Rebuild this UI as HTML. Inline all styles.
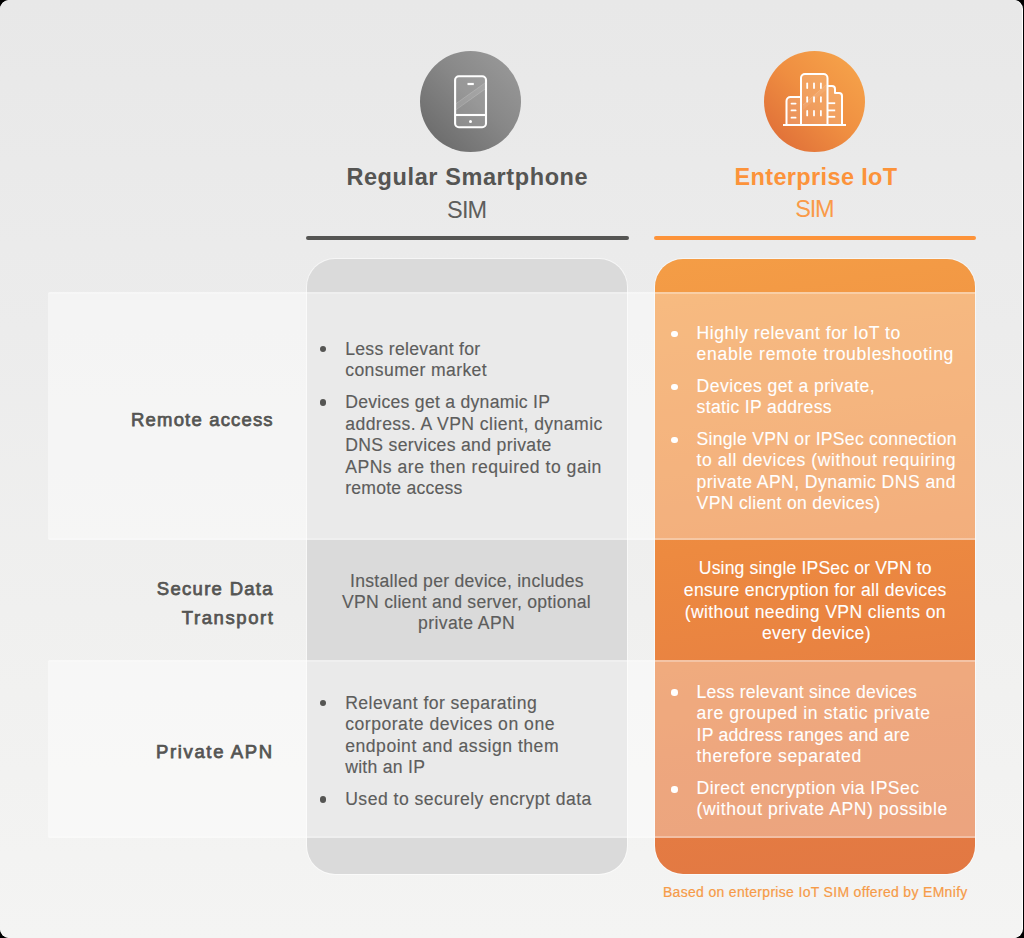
<!DOCTYPE html>
<html>
<head>
<meta charset="utf-8">
<style>
html,body{margin:0;padding:0;}
body{width:1024px;height:938px;background:#000;position:relative;overflow:hidden;font-family:"Liberation Sans",sans-serif;}
.frame{position:absolute;left:0;top:0;width:1023px;height:938px;border-radius:9px;background:#fff;overflow:hidden;}
.bg{position:absolute;left:0;top:0;width:1022px;height:938px;border-radius:9px;background:linear-gradient(180deg,#e8e8e8 0%,#ececec 35%,#f0f0ef 65%,#f4f4f3 100%);}
.t{position:absolute;white-space:nowrap;line-height:1;}
.b{-webkit-text-stroke:0.15px currentColor;}
.bw{-webkit-text-stroke:0.1px currentColor;}
.bf{-webkit-text-stroke:0.2px currentColor;}
.sb{-webkit-text-stroke:0.75px currentColor;}
.bul{position:absolute;width:6.4px;height:6.4px;border-radius:50%;}
.circle{position:absolute;width:101px;height:101px;border-radius:50%;}
.c1{left:420px;top:51px;background:linear-gradient(45deg,#656565 0%,#888888 55%,#9c9c9c 100%);}
.c2{left:764px;top:51px;background:linear-gradient(45deg,#dc6836 0%,#ef8e41 50%,#f7a74c 100%);}
.bar{position:absolute;height:4px;top:236px;border-radius:2px;}
.card{position:absolute;top:259px;width:320px;height:615px;border-radius:28px;box-sizing:border-box;}
.gcard{left:307px;background:#dadada;box-shadow:0 0 0 1px rgba(255,255,255,0.55);}
.ocard{left:655px;background:linear-gradient(172deg,#f49d46 0%,#ed8a40 45%,#e67e42 75%,#e27843 100%);box-shadow:0 0 0 1px rgba(255,255,255,0.55);}
.band{position:absolute;left:48px;width:927px;background:rgba(255,255,255,0.44);border-top:2px solid rgba(255,255,255,0.22);border-bottom:2px solid rgba(255,255,255,0.22);box-sizing:border-box;border-radius:2px;}
.bo{background:rgba(255,255,255,0.32);border-color:rgba(255,255,255,0.3);border-radius:0;}
</style>
</head>
<body>
<div class="frame"><div class="bg"></div></div>

<div class="circle c1"></div>
<svg style="position:absolute;left:420px;top:51px" width="101" height="101" viewBox="420 51 101 101">
  <rect x="455.1" y="76.3" width="30.9" height="50.9" rx="3.5" fill="rgba(255,255,255,0.14)"/>
  <path d="M486 82.2 L456 103.6 L456 109.8 L486 88.4 Z" fill="rgba(255,255,255,0.10)"/>
  <g stroke="rgba(255,255,255,0.18)" stroke-width="0.9">
    <line x1="486" y1="82.2" x2="456" y2="103.6"/>
    <line x1="486" y1="88.4" x2="456" y2="109.8"/>
  </g>
  <g fill="none" stroke="#fff" stroke-width="2.1">
    <rect x="455.1" y="76.3" width="30.9" height="50.9" rx="3.8"/>
    <line x1="455" y1="115" x2="486" y2="115"/>
    <line x1="467.5" y1="84" x2="473.8" y2="84" stroke-width="2.2"/>
  </g>
  <circle cx="470.5" cy="121.6" r="1.5" fill="#fff"/>
</svg>

<div class="circle c2"></div>
<svg style="position:absolute;left:764px;top:51px" width="101" height="101" viewBox="764 51 101 101">
  <g fill="rgba(255,255,255,0.16)">
    <path d="M786.5 125 V101 a4 4 0 0 1 4 -4 H801 V125 Z"/>
    <path d="M801 125 V78 a4 4 0 0 1 4 -4 H823.5 a4 4 0 0 1 4 4 V125 Z"/>
    <path d="M827.5 125 V86 H832 a3 3 0 0 1 3 3 V93 H839 a3 3 0 0 1 3 3 V125 Z"/>
  </g>
  <path d="M803 105 L826 85 L826 90 L803 110 Z" fill="rgba(255,255,255,0.08)"/>
  <line x1="803" y1="105" x2="826" y2="85" stroke="rgba(255,255,255,0.14)" stroke-width="1"/>
  <path d="M786.5 125 V101 a4 4 0 0 1 4 -4 H801 M801 125 V78 a4 4 0 0 1 4 -4 H823.5 a4 4 0 0 1 4 4 V125 M827.5 86 H832 a3 3 0 0 1 3 3 V93 H839 a3 3 0 0 1 3 3 V125" fill="none" stroke="#fff" stroke-width="2" stroke-linejoin="round"/>
  <line x1="783" y1="125" x2="846" y2="125" stroke="#fff" stroke-width="2"/>
  <g stroke="#fff" stroke-width="1.8" stroke-linecap="round">
    <line x1="807.2" y1="83.5" x2="807.2" y2="88"/>
    <line x1="814" y1="83.5" x2="814" y2="88"/>
    <line x1="820.9" y1="83.5" x2="820.9" y2="88"/>
    <line x1="807.2" y1="97.2" x2="807.2" y2="101.7"/>
    <line x1="814" y1="97.2" x2="814" y2="101.7"/>
    <line x1="820.9" y1="97.2" x2="820.9" y2="101.7"/>
    <line x1="807.2" y1="110.9" x2="807.2" y2="115.4"/>
    <line x1="814" y1="110.9" x2="814" y2="115.4"/>
    <line x1="820.9" y1="110.9" x2="820.9" y2="115.4"/>
    <line x1="791.5" y1="103.6" x2="795.6" y2="103.6"/>
    <line x1="791.5" y1="110.4" x2="795.6" y2="110.4"/>
    <line x1="791.5" y1="117.7" x2="795.6" y2="117.7"/>
  </g>
  <g stroke="#fff" stroke-width="1.8">
    <line x1="828" y1="103.2" x2="835.2" y2="103.2"/>
    <line x1="828" y1="110.4" x2="835.2" y2="110.4"/>
    <line x1="828" y1="116.8" x2="835.2" y2="116.8"/>
  </g>
</svg>

<div class="bar" style="left:306px;width:323px;background:#555553"></div>
<div class="bar" style="left:653.5px;width:322.5px;background:#fd9339"></div>

<div class="card gcard"></div>
<div class="card ocard"></div>

<div class="band" style="top:292px;height:248px;width:607px"></div>
<div class="band bo" style="top:292px;height:248px;left:655px;width:320px"></div>
<div class="band" style="top:660px;height:178px;width:607px"></div>
<div class="band bo" style="top:660px;height:178px;left:655px;width:320px"></div>

<div class="bul" style="left:319.5px;top:345.7px;background:#555553"></div>
<div class="bul" style="left:319.5px;top:399.4px;background:#555553"></div>
<div class="bul" style="left:319.5px;top:700.0px;background:#555553"></div>
<div class="bul" style="left:319.5px;top:796.2px;background:#555553"></div>
<div class="bul" style="left:671.2px;top:330.5px;background:#fff"></div>
<div class="bul" style="left:671.2px;top:383.6px;background:#fff"></div>
<div class="bul" style="left:671.2px;top:436.7px;background:#fff"></div>
<div class="bul" style="left:671.2px;top:689.4px;background:#fff"></div>
<div class="bul" style="left:671.2px;top:786.3px;background:#fff"></div>
<div class="t" style="left:346.4px;top:166.10px;font-size:23.5px;font-weight:700;color:#555553;letter-spacing:0.593px">Regular Smartphone</div>
<div class="t" style="left:447.0px;top:198.70px;font-size:23.5px;font-weight:400;color:#5e5e5c;letter-spacing:-0.791px">SIM</div>
<div class="t" style="left:734.5px;top:165.80px;font-size:23.5px;font-weight:700;color:#fc933a;letter-spacing:0.360px">Enterprise IoT</div>
<div class="t" style="left:795.2px;top:198.30px;font-size:23.5px;font-weight:400;color:#fa9a48;letter-spacing:-1.141px">SIM</div>
<div class="t sb" style="left:131.1px;top:410.64px;font-size:18.5px;font-weight:400;color:#555553;letter-spacing:1.167px">Remote access</div>
<div class="t sb" style="left:156.8px;top:579.94px;font-size:18.5px;font-weight:400;color:#555553;letter-spacing:1.296px">Secure Data</div>
<div class="t sb" style="left:181.7px;top:608.54px;font-size:18.5px;font-weight:400;color:#555553;letter-spacing:1.602px">Transport</div>
<div class="t sb" style="left:156.1px;top:742.94px;font-size:18.5px;font-weight:400;color:#555553;letter-spacing:1.625px">Private APN</div>
<div class="t b" style="left:345.2px;top:340.50px;font-size:17.6px;font-weight:400;color:#5d5d5c;letter-spacing:0.308px">Less relevant for</div>
<div class="t b" style="left:345.2px;top:362.00px;font-size:17.6px;font-weight:400;color:#5d5d5c;letter-spacing:0.400px">consumer market</div>
<div class="t b" style="left:345.2px;top:394.20px;font-size:17.6px;font-weight:400;color:#5d5d5c;letter-spacing:0.273px">Devices get a dynamic IP</div>
<div class="t b" style="left:345.2px;top:415.60px;font-size:17.6px;font-weight:400;color:#5d5d5c;letter-spacing:0.435px">address. A VPN client, dynamic</div>
<div class="t b" style="left:345.2px;top:437.20px;font-size:17.6px;font-weight:400;color:#5d5d5c;letter-spacing:0.335px">DNS services and private</div>
<div class="t b" style="left:345.2px;top:458.70px;font-size:17.6px;font-weight:400;color:#5d5d5c;letter-spacing:0.504px">APNs are then required to gain</div>
<div class="t b" style="left:345.2px;top:479.80px;font-size:17.6px;font-weight:400;color:#5d5d5c;letter-spacing:0.224px">remote access</div>
<div class="t b" style="left:345.2px;top:694.80px;font-size:17.6px;font-weight:400;color:#5d5d5c;letter-spacing:0.435px">Relevant for separating</div>
<div class="t b" style="left:345.2px;top:716.00px;font-size:17.6px;font-weight:400;color:#5d5d5c;letter-spacing:0.510px">corporate devices on one</div>
<div class="t b" style="left:345.2px;top:737.60px;font-size:17.6px;font-weight:400;color:#5d5d5c;letter-spacing:0.517px">endpoint and assign them</div>
<div class="t b" style="left:345.2px;top:758.85px;font-size:17.6px;font-weight:400;color:#5d5d5c;letter-spacing:0.282px">with an IP</div>
<div class="t b" style="left:345.2px;top:791.00px;font-size:17.6px;font-weight:400;color:#5d5d5c;letter-spacing:0.480px">Used to securely encrypt data</div>
<div class="t b" style="left:350.1px;top:572.60px;font-size:17.6px;font-weight:400;color:#5d5d5c;letter-spacing:0.261px">Installed per device, includes</div>
<div class="t b" style="left:342.0px;top:593.50px;font-size:17.6px;font-weight:400;color:#5d5d5c;letter-spacing:0.272px">VPN client and server, optional</div>
<div class="t b" style="left:418.0px;top:614.50px;font-size:17.6px;font-weight:400;color:#5d5d5c;letter-spacing:0.389px">private APN</div>
<div class="t bw" style="left:696.6px;top:324.50px;font-size:17.6px;font-weight:400;color:#ffffff;letter-spacing:0.494px">Highly relevant for IoT to</div>
<div class="t bw" style="left:696.6px;top:346.10px;font-size:17.6px;font-weight:400;color:#ffffff;letter-spacing:0.683px">enable remote troubleshooting</div>
<div class="t bw" style="left:696.6px;top:377.60px;font-size:17.6px;font-weight:400;color:#ffffff;letter-spacing:0.424px">Devices get a private,</div>
<div class="t bw" style="left:696.6px;top:398.50px;font-size:17.6px;font-weight:400;color:#ffffff;letter-spacing:0.328px">static IP address</div>
<div class="t bw" style="left:696.6px;top:430.70px;font-size:17.6px;font-weight:400;color:#ffffff;letter-spacing:0.265px">Single VPN or IPSec connection</div>
<div class="t bw" style="left:696.6px;top:452.30px;font-size:17.6px;font-weight:400;color:#ffffff;letter-spacing:0.545px">to all devices (without requiring</div>
<div class="t bw" style="left:696.6px;top:473.50px;font-size:17.6px;font-weight:400;color:#ffffff;letter-spacing:0.430px">private APN, Dynamic DNS and</div>
<div class="t bw" style="left:696.6px;top:495.40px;font-size:17.6px;font-weight:400;color:#ffffff;letter-spacing:0.305px">VPN client on devices)</div>
<div class="t bw" style="left:696.6px;top:683.50px;font-size:17.6px;font-weight:400;color:#ffffff;letter-spacing:0.198px">Less relevant since devices</div>
<div class="t bw" style="left:696.6px;top:705.40px;font-size:17.6px;font-weight:400;color:#ffffff;letter-spacing:0.581px">are grouped in static private</div>
<div class="t bw" style="left:696.6px;top:726.70px;font-size:17.6px;font-weight:400;color:#ffffff;letter-spacing:0.253px">IP address ranges and are</div>
<div class="t bw" style="left:696.6px;top:748.20px;font-size:17.6px;font-weight:400;color:#ffffff;letter-spacing:0.616px">therefore separated</div>
<div class="t bw" style="left:696.6px;top:780.40px;font-size:17.6px;font-weight:400;color:#ffffff;letter-spacing:0.430px">Direct encryption via IPSec</div>
<div class="t bw" style="left:696.6px;top:800.70px;font-size:17.6px;font-weight:400;color:#ffffff;letter-spacing:0.548px">(without private APN) possible</div>
<div class="t bw" style="left:698.8px;top:560.40px;font-size:17.6px;font-weight:400;color:#ffffff;letter-spacing:0.149px">Using single IPSec or VPN to</div>
<div class="t bw" style="left:683.8px;top:582.30px;font-size:17.6px;font-weight:400;color:#ffffff;letter-spacing:0.318px">ensure encryption for all devices</div>
<div class="t bw" style="left:684.7px;top:603.50px;font-size:17.6px;font-weight:400;color:#ffffff;letter-spacing:0.384px">(without needing VPN clients on</div>
<div class="t bw" style="left:761.9px;top:625.10px;font-size:17.6px;font-weight:400;color:#ffffff;letter-spacing:0.338px">every device)</div>
<div class="t bf" style="left:662.9px;top:885.15px;font-size:14px;font-weight:400;color:#f69b48;letter-spacing:0.317px">Based on enterprise IoT SIM offered by EMnify</div>
</body>
</html>
